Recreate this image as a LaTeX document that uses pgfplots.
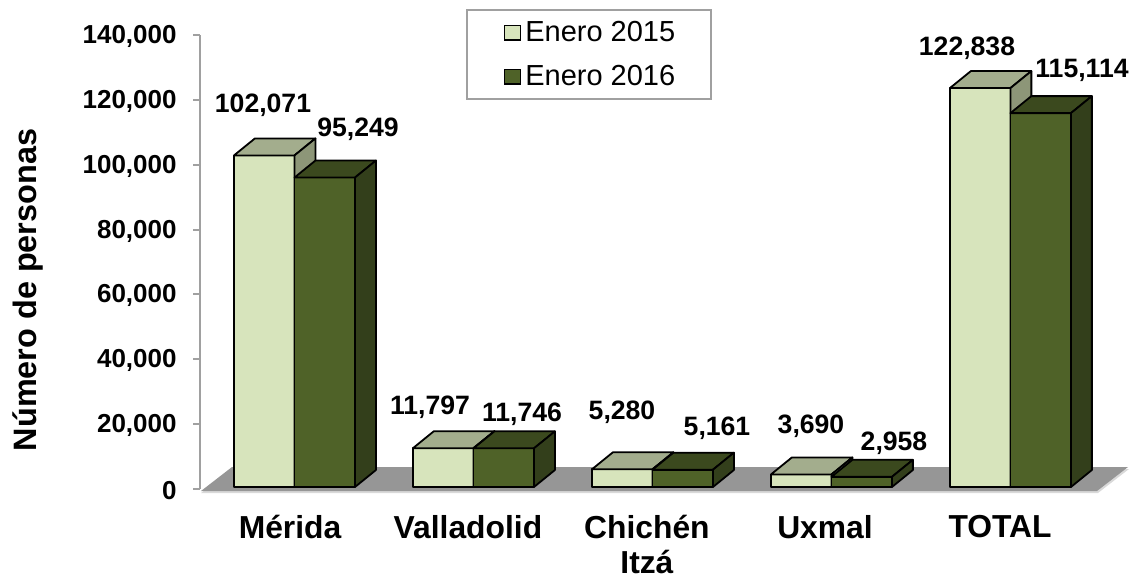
\documentclass[border=0pt]{standalone}
\usepackage{pgfplots}
\pgfplotsset{compat=1.18}
\usepackage{fontspec}
\setmainfont{Liberation Sans}

\definecolor{lfront}{HTML}{D7E4BC}
\definecolor{ltop}{HTML}{A3AD8D}
\definecolor{lside}{HTML}{8D9678}
\definecolor{dfront}{HTML}{4F6228}
\definecolor{dtop}{HTML}{3B491E}
\definecolor{dside}{HTML}{333F1B}
\definecolor{floorgray}{HTML}{969696}
\definecolor{axisgray}{HTML}{A0A0A0}

% one 3D bar: left edge, value, front/top/side colours
\newcommand{\cube}[5]{%
  \pgfmathsetmacro\xa{#1}%
  \pgfmathsetmacro\xb{#1+0.338}%
  \pgfmathsetmacro\xc{#1+0.117}%
  \pgfmathsetmacro\xd{#1+0.455}%
  \edef\yt{\the\numexpr#2+800\relax}%
  \edef\yu{\the\numexpr#2+6042\relax}%
  \edef\cubetmp{%
    \noexpand\addplot[cubeface,fill=#3] coordinates {(\xa,617) (\xb,617) (\xb,\yt) (\xa,\yt)} -- cycle;
    \noexpand\addplot[cubeface,fill=#4] coordinates {(\xa,\yt) (\xb,\yt) (\xd,\yu) (\xc,\yu)} -- cycle;
    \noexpand\addplot[cubeface,fill=#5] coordinates {(\xb,617) (\xd,5859) (\xd,\yu) (\xb,\yt)} -- cycle;
  }\cubetmp
}

\begin{document}
\begin{tikzpicture}
\begin{scope}[x=0.5pt,y=-0.5pt]
\path[use as bounding box] (0,0) rectangle (1138,577);
% floor
\fill[black!15] (201,493) -- (1098,493) -- (1129,469) -- (233,469) -- cycle;
\fill[floorgray] (201,491) -- (1097,491) -- (1128,467) -- (232,467) -- cycle;
\end{scope}

\begin{axis}[
  at={(100pt,-244.5pt)},
  anchor=south west,
  scale only axis,
  width=464pt,
  height=227pt,
  clip=false,
  xmin=-0.531, xmax=4.654,
  ymin=0, ymax=140000,
  axis y line=left,
  axis x line=bottom,
  x axis line style={draw=none,-},
  y axis line style={draw=axisgray,line width=1.2pt,-},
  ytick={0,20000,...,140000},
  ytick style={draw=axisgray,line width=1pt},
  tick align=outside,
  major tick length=3.5pt,
  xtick={-0.028,0.966,1.966,2.961,3.939},
  xticklabels={Mérida,Valladolid,{Chichén\\Itzá},Uxmal,TOTAL},
  xtick style={draw=none},
  x tick label style={font=\fontsize{15.9}{17.5}\selectfont\bfseries,align=center,anchor=north,yshift=-9.5pt,inner sep=0pt},
  y tick label style={font=\fontsize{13}{15}\selectfont\bfseries,inner sep=0pt,xshift=-8pt,yshift=-0.7pt},
  /pgf/number format/assume math mode=true,
  /pgf/number format/fixed,
  /pgf/number format/1000 sep={,},
  scaled y ticks=false,
  ylabel={Número de personas},
  ylabel style={font=\fontsize{16.2}{18}\selectfont\bfseries,yshift=16pt,xshift=-14pt},
  legend style={
    at={(133pt,240pt)},anchor=north west,
    draw=axisgray,line width=1pt,fill=white,
    font=\fontsize{14.5}{16}\selectfont,
    inner xsep=15.75pt,inner ysep=3.5pt,
    row sep=6.5pt,
  },
  legend cell align=left,
  legend image code/.code={\path (-2.5pt,0pt);\draw[#1,line width=0.8pt] (0pt,-3.6pt) rectangle (8pt,3.6pt);},
  cubeface/.style={draw=black,line width=0.9pt,line join=round,forget plot},
]
\cube{-0.341}{102071}{lfront}{ltop}{lside}
\cube{-0.003}{95249}{dfront}{dtop}{dside}
\cube{0.659}{11797}{lfront}{ltop}{lside}
\cube{0.997}{11746}{dfront}{dtop}{dside}
\cube{1.659}{5280}{lfront}{ltop}{lside}
\cube{1.997}{5161}{dfront}{dtop}{dside}
\cube{2.659}{3690}{lfront}{ltop}{lside}
\cube{2.997}{2958}{dfront}{dtop}{dside}
\cube{3.659}{122838}{lfront}{ltop}{lside}
\cube{3.997}{115114}{dfront}{dtop}{dside}
\addlegendimage{fill=lfront,draw=black}
\addlegendentry{Enero 2015}
\addlegendimage{fill=dfront,draw=black}
\addlegendentry{Enero 2016}
\end{axis}

% value labels
\begin{scope}[x=0.5pt,y=-0.5pt,every node/.style={font=\fontsize{13.3}{15}\selectfont\bfseries,inner sep=0pt}]
\node at (263,105) {102,071};
\node at (358,129) {95,249};
\node at (430,407) {11,797};
\node at (522,414) {11,746};
\node at (622,412) {5,280};
\node at (717,428) {5,161};
\node at (811,426) {3,690};
\node at (894,443) {2,958};
\node at (967,48) {122,838};
\node at (1082,70) {115,114};
\end{scope}
\end{tikzpicture}
\end{document}
